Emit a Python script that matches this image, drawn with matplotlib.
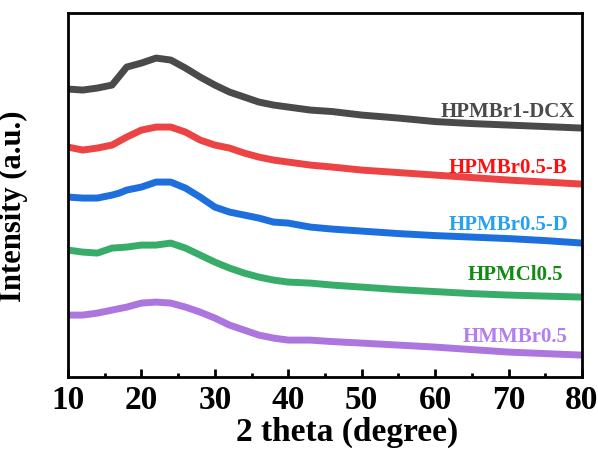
import numpy as np
import matplotlib
matplotlib.use('Agg')
import matplotlib.pyplot as plt
from matplotlib.ticker import MultipleLocator

plt.rcParams['font.family'] = ['Liberation Serif', 'DejaVu Serif']
plt.rcParams['font.weight'] = 'bold'

two_theta = [10, 12, 14, 16, 17, 18, 20, 22, 24, 26, 28, 30, 32, 34, 36, 38,
             40, 43, 46, 50, 55, 60, 65, 70, 75, 80]

# stacked intensities (a.u., offset already included)
i_dcx = [288, 287, 289, 292, 301, 310, 314, 319, 317, 309, 300, 292, 285,
         280, 275, 272, 270, 267, 265.5, 262, 259, 255.5, 253.5, 252, 250.5, 249]
i_b = [230, 227, 229, 232, 236, 240, 247, 250, 250, 245, 237, 232, 229,
       224, 220, 217, 215, 212, 210, 207, 204.5, 202, 199.5, 197, 195, 193]
i_d = [180, 179, 179, 182, 184, 187, 190, 195, 195, 189, 180, 170, 165,
       162, 159, 155, 154, 150, 148, 146, 143.5, 141.5, 140, 138.5, 136.5, 134]
i_cl = [127, 125, 124, 129, 129.5, 130, 132, 132, 134, 129, 122, 115, 109,
        104, 100, 97, 95, 94, 92, 90, 87.5, 85.5, 83.5, 82, 81, 80]
i_mm = [62, 62, 64, 67, 68.5, 70, 74, 75, 74, 70, 65, 59, 52,
        47, 42, 39, 37, 37, 35.5, 34, 32, 30, 27.5, 25, 23.5, 22]

names = ['HPMBr1-DCX', 'HPMBr0.5-B', 'HPMBr0.5-D', 'HPMCl0.5', 'HMMBr0.5']
line_colors = ['#4a4a4a', '#ec4444', '#1c6fdc', '#38ad6a', '#ad76de']
text_colors = ['#4a4a4a', '#ff1010', '#28a0f0', '#138a13', '#b57ef0']
label_x = [79.0, 78.0, 78.1, 77.5, 78.0]
label_y = [265, 209, 152, 102, 40]

curves = [i_dcx, i_b, i_d, i_cl, i_mm]

fig = plt.figure(figsize=(5.98, 4.5), dpi=100)
ax = fig.add_axes([0.1137, 0.162, 0.8595, 0.809])

for y, c in zip(curves, line_colors):
    ax.plot(two_theta, y, color=c, lw=5, solid_joinstyle='round',
            solid_capstyle='butt')

for n, c, tx, ty in zip(names, text_colors, label_x, label_y):
    ax.text(tx, ty, n, color=c, fontsize=15, fontweight='bold',
            ha='right', va='center')

ax.set_xlim(10, 80)
ax.set_ylim(0, 364)
ax.xaxis.set_major_locator(MultipleLocator(10))
ax.xaxis.set_minor_locator(MultipleLocator(5))
ax.set_yticks([])
ax.tick_params(axis='x', which='major', direction='in', length=6, width=2,
               labelsize=24, pad=6)
ax.tick_params(axis='x', which='minor', direction='in', length=3, width=2)
for lab in ax.get_xticklabels():
    lab.set_fontweight('bold')
for s in ax.spines.values():
    s.set_linewidth(2)

ax.set_xlabel('2 theta (degree)', fontsize=24, fontweight='bold')
ax.xaxis.set_label_coords(0.543, -0.11)
ax.set_ylabel('Intensity (a.u.)', fontsize=22, fontweight='bold')
ax.yaxis.set_label_coords(-0.078, 0.47)

plt.savefig('out.png', dpi=100)
